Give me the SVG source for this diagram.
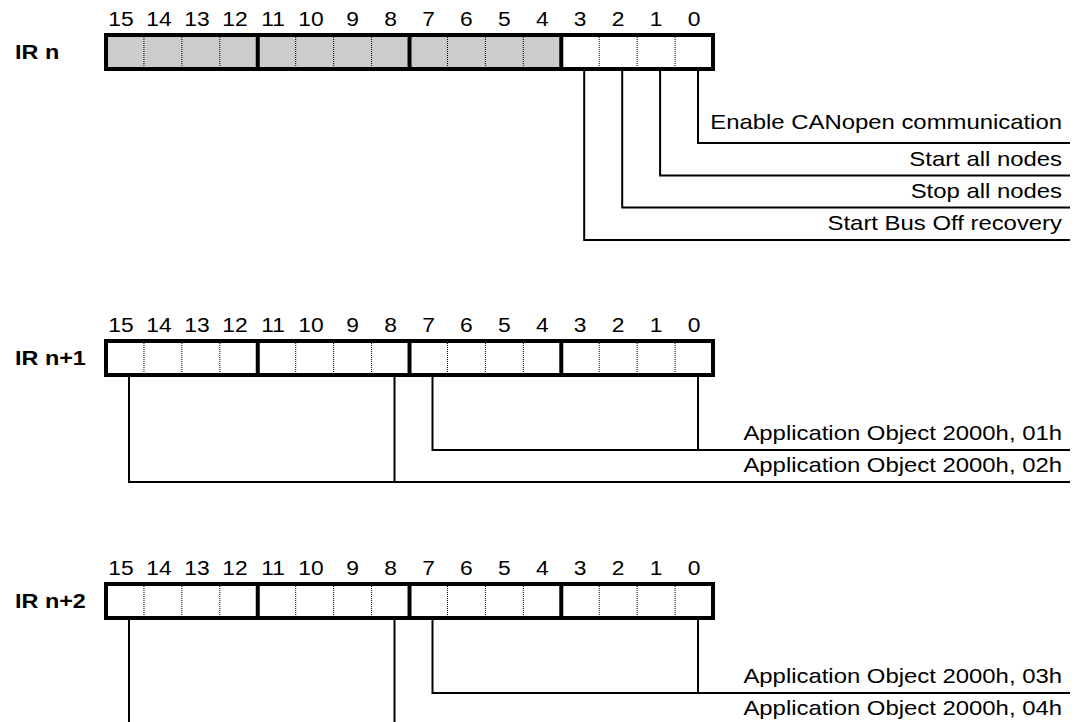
<svg xmlns="http://www.w3.org/2000/svg" xmlns:xlink="http://www.w3.org/1999/xlink" width="1081" height="722" viewBox="0 0 1081 722">
<style>
text{font-family:"Liberation Sans",Arial,sans-serif;fill:#000}
.bit{font-size:19.5px;text-anchor:middle}
.reg{font-size:20px;font-weight:bold}
.lbl{font-size:20px;text-anchor:end}
.dot{stroke:#000;stroke-width:1;stroke-dasharray:1 1;fill:none}
.thick{stroke:#000;stroke-width:4;fill:none}
.con{stroke:#000;stroke-width:2;fill:none}
</style>
<defs>
<g id="cells">
<path class="dot" d="M143.94 2V32M181.88 2V32M219.82 2V32M295.7 2V32M333.64 2V32M371.58 2V32M447.46 2V32M485.4 2V32M523.34 2V32M599.22 2V32M637.16 2V32M675.1 2V32"/>
<path class="thick" d="M257.76 -2V34M409.52 -2V34M561.28 -2V34"/>
<rect class="thick" x="106" y="0" width="607" height="34"/>
</g>
<g id="bits">
<text class="bit" transform="translate(121 0) scale(1.17 1)">15</text>
<text class="bit" transform="translate(159 0) scale(1.17 1)">14</text>
<text class="bit" transform="translate(197 0) scale(1.17 1)">13</text>
<text class="bit" transform="translate(235 0) scale(1.17 1)">12</text>
<text class="bit" transform="translate(273 0) scale(1.17 1)">11</text>
<text class="bit" transform="translate(311 0) scale(1.17 1)">10</text>
<text class="bit" transform="translate(352.6 0) scale(1.17 1)">9</text>
<text class="bit" transform="translate(390.5 0) scale(1.17 1)">8</text>
<text class="bit" transform="translate(428.5 0) scale(1.17 1)">7</text>
<text class="bit" transform="translate(466.4 0) scale(1.17 1)">6</text>
<text class="bit" transform="translate(504.4 0) scale(1.17 1)">5</text>
<text class="bit" transform="translate(542.3 0) scale(1.17 1)">4</text>
<text class="bit" transform="translate(580.2 0) scale(1.17 1)">3</text>
<text class="bit" transform="translate(618.2 0) scale(1.17 1)">2</text>
<text class="bit" transform="translate(656.1 0) scale(1.17 1)">1</text>
<text class="bit" transform="translate(694.1 0) scale(1.17 1)">0</text>
</g>
</defs>

<g id="reg-n">
<text class="reg" transform="translate(15 59) scale(1.17 1)">IR n</text>
<use xlink:href="#bits" href="#bits" transform="translate(0 26)"/>
<rect x="106" y="35" width="455.28" height="34" fill="#cccccc"/>
<use xlink:href="#cells" href="#cells" transform="translate(0 35)"/>
</g>

<g id="reg-n1">
<text class="reg" transform="translate(15 365) scale(1.17 1)">IR n+1</text>
<use xlink:href="#bits" href="#bits" transform="translate(0 332)"/>
<use xlink:href="#cells" href="#cells" transform="translate(0 341)"/>
</g>

<g id="reg-n2">
<text class="reg" transform="translate(15 608) scale(1.17 1)">IR n+2</text>
<use xlink:href="#bits" href="#bits" transform="translate(0 575)"/>
<use xlink:href="#cells" href="#cells" transform="translate(0 584)"/>
</g>

<g id="connectors">
<path class="con" d="M698 71V143H1070"/>
<path class="con" d="M660.1 71V175.5H1070"/>
<path class="con" d="M622.2 71V207.5H1070"/>
<path class="con" d="M584.2 71V240H1070"/>
<path class="con" d="M698 377V450M432.5 377V450H1070"/>
<path class="con" d="M394.5 377V482M129 377V482H1070"/>
<path class="con" d="M698 620V693M432.5 620V693H1070"/>
<path class="con" d="M394.5 620V725M129 620V725H1070"/>
</g>

<g id="label-b0"><text class="lbl" transform="translate(1062 129) scale(1.195 1)">Enable CANopen communication</text></g>
<g id="label-b1"><text class="lbl" transform="translate(1062 166) scale(1.195 1)">Start all nodes</text></g>
<g id="label-b2"><text class="lbl" transform="translate(1062 198) scale(1.195 1)">Stop all nodes</text></g>
<g id="label-b3"><text class="lbl" transform="translate(1062 230) scale(1.195 1)">Start Bus Off recovery</text></g>
<g id="label-n1-lo"><text class="lbl" transform="translate(1062 440) scale(1.195 1)">Application Object 2000h, 01h</text></g>
<g id="label-n1-hi"><text class="lbl" transform="translate(1062 472) scale(1.195 1)">Application Object 2000h, 02h</text></g>
<g id="label-n2-lo"><text class="lbl" transform="translate(1062 683) scale(1.195 1)">Application Object 2000h, 03h</text></g>
<g id="label-n2-hi"><text class="lbl" transform="translate(1062 715) scale(1.195 1)">Application Object 2000h, 04h</text></g>
</svg>
